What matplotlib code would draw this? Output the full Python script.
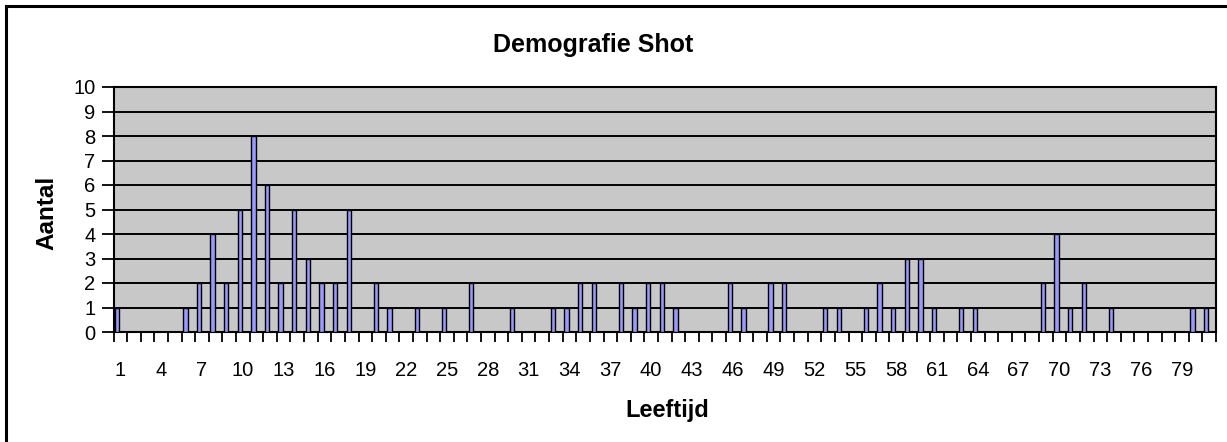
import numpy as np
import matplotlib
matplotlib.use('Agg')
import matplotlib.pyplot as plt
from matplotlib.lines import Line2D

# leeftijd (1..81) en aantal
ages = list(range(1, 82))
counts = {1: 1, 6: 1, 7: 2, 8: 4, 9: 2, 10: 5, 11: 8, 12: 6, 13: 2, 14: 5,
          15: 3, 16: 2, 17: 2, 18: 5, 20: 2, 21: 1, 23: 1, 25: 1, 27: 2,
          30: 1, 33: 1, 34: 1, 35: 2, 36: 2, 38: 2, 39: 1, 40: 2, 41: 2,
          42: 1, 46: 2, 47: 1, 49: 2, 50: 2, 53: 1, 54: 1, 56: 1, 57: 2,
          58: 1, 59: 3, 60: 3, 61: 1, 63: 1, 64: 1, 69: 2, 70: 4, 71: 1,
          72: 2, 74: 1, 80: 1, 81: 1}
values = [counts.get(a, 0) for a in ages]
tick_labels = [str(a) for a in range(1, 82, 3)]
y_ticks = list(range(0, 11))

plt.rcParams['font.family'] = ['Liberation Sans', 'DejaVu Sans']

fig = plt.figure(figsize=(12.27, 4.42), dpi=100)
ax = fig.add_axes([113.5 / 1227, 1 - 332 / 442, (1216 - 113.5) / 1227, (332 - 87) / 442])
ax.set_facecolor('#c8c8c8')

x = np.array(ages)
ax.bar(x - 0.22, values, width=0.32, color='#9999ff', edgecolor='black',
       linewidth=1.0, zorder=3)

ax.set_xlim(0.5, 81.5)
ax.set_ylim(0, 10)
ax.set_yticks(y_ticks)
ax.set_yticklabels([str(v) for v in y_ticks], fontsize=14.5)
ax.yaxis.grid(True, color='black', linewidth=1.4, zorder=1)
ax.set_axisbelow(True)

# category boundaries as ticks, labels every third category
ax.set_xticks(np.arange(0.5, 82, 1.0))
ax.set_xticklabels([])
ax.set_xticks(np.arange(1, 82, 3), minor=True)
ax.set_xticklabels(tick_labels, minor=True, fontsize=14.5)
ax.tick_params(axis='x', which='major', direction='out', length=7, width=1.3)
ax.tick_params(axis='x', which='minor', length=0, pad=21)
ax.tick_params(axis='y', direction='out', length=9, width=1.3, pad=4)

for s in ax.spines.values():
    s.set_linewidth(1.5)
    s.set_color('black')

fig.text(593 / 1227, 1 - 45 / 442, 'Demografie Shot', ha='center', va='center',
         fontsize=18, fontweight='bold')
fig.text(667 / 1227, 1 - 411 / 442, 'Leeftijd', ha='center', va='center',
         fontsize=17, fontweight='bold')
fig.text(47 / 1227, 1 - 213 / 442, 'Aantal', ha='center', va='center',
         fontsize=17.5, fontweight='bold', rotation=90)

# chart border (left and top visible)
fig.add_artist(Line2D([6 / 1227, 6 / 1227], [0, 1 - 5.5 / 442], color='black', linewidth=2.2))
fig.add_artist(Line2D([6 / 1227, 1], [1 - 5.5 / 442, 1 - 5.5 / 442], color='black', linewidth=2.2))

fig.savefig('out.png', dpi=100)
